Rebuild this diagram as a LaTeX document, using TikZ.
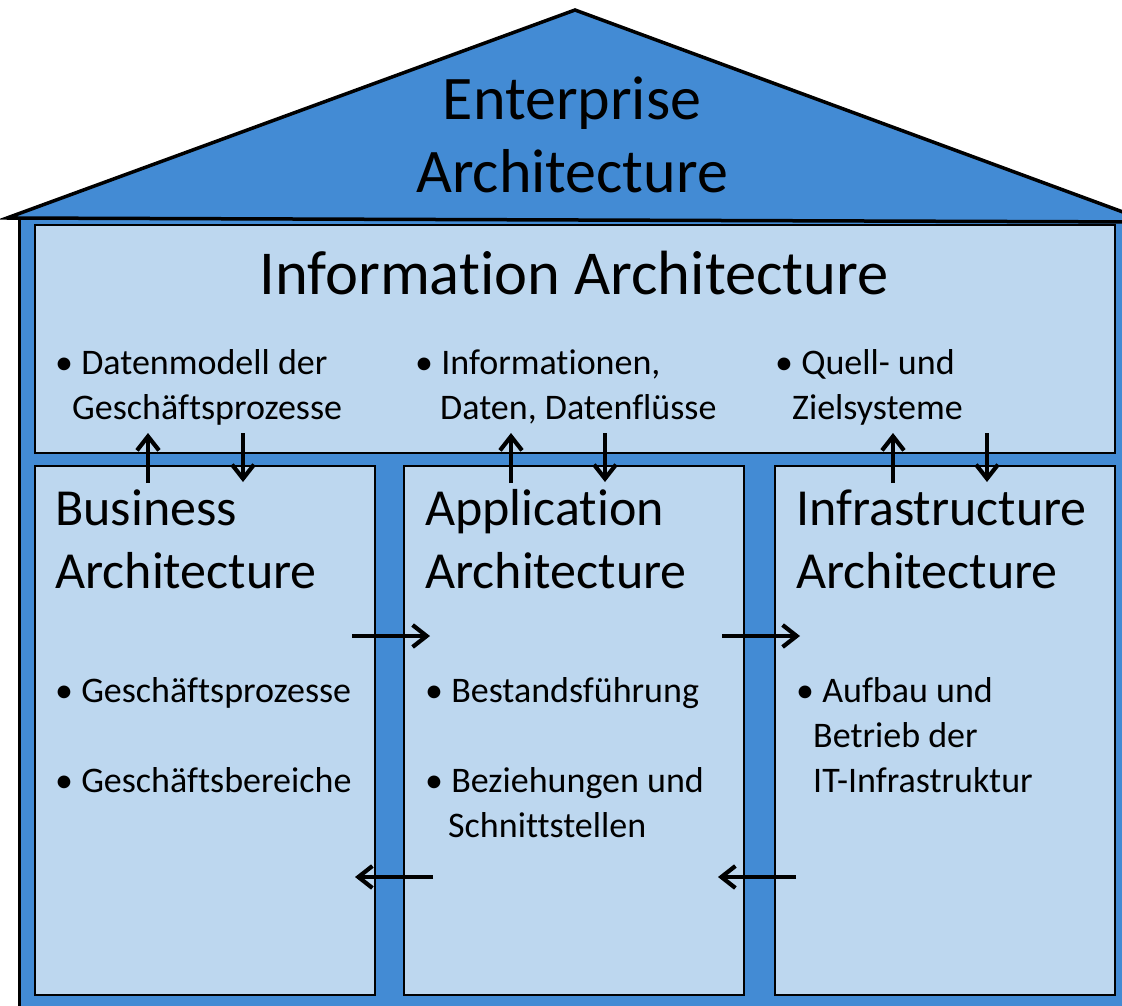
\documentclass[tikz,border=0pt]{standalone}
\usepackage{fontspec}
\setmainfont{Carlito}[Ligatures=NoCommon]
\usepackage{tikz}
\usetikzlibrary{arrows.meta}
\definecolor{roofblue}{RGB}{67,139,212}
\definecolor{paleblue}{RGB}{189,215,239}
\tikzset{
  pane/.style={draw=black,fill=paleblue,line width=2.8pt},
  txt/.style={anchor=base west,inner sep=0pt},
  arrowline/.style={line width=4.2pt,-{Straight Barb[length=14pt,width=22pt]}}
}
\newcommand{\bigfont}{\fontsize{62}{74}\selectfont}
\newcommand{\midfont}{\fontsize{62.5}{74}\selectfont}
\newcommand{\boxfont}{\fontsize{52}{62}\selectfont}
\newcommand{\itemfont}{\fontsize{36}{43}\selectfont}

\begin{document}
\begin{tikzpicture}[x=1pt,y=-1pt]
\useasboundingbox (0,0) rectangle (1122,1006);
\clip (0,0) rectangle (1122,1006);

% house
\filldraw[fill=roofblue,line width=3pt] (19,218) rectangle (1140,1020);
\filldraw[fill=roofblue,line width=3.5pt,line join=miter] (7,218) -- (575,10) -- (1150,222) -- cycle;
\draw(572,120) node[anchor=base,inner sep=0pt] (ent1) {\bigfont Enterprise};
\draw(572,192) node[anchor=base,inner sep=0pt] (ent2) {\bigfont Architecture};

% information layer
\draw[pane] (35,225) rectangle (1115,453);
\draw(574,294) node[anchor=base,inner sep=0pt] (info) {\midfont Information Architecture};
\draw(55,374) node[txt] (i1a) {\itemfont \textbullet\ Datenmodell der};
\draw(72,419) node[txt] (i1b) {\itemfont Geschäftsprozesse};
\draw(415,374) node[txt] (i2a) {\itemfont \textbullet\ Informationen,};
\draw(440,419) node[txt] (i2b) {\itemfont Daten, Datenflüsse};
\draw(775,374) node[txt] (i3a) {\itemfont \textbullet\ Quell- und};
\draw(792,419) node[txt] (i3b) {\itemfont Zielsysteme};

% the three pillars
\draw[pane] (35,466) rectangle (375,995);
\draw(55,525) node[txt] (bus1) {\boxfont Business};
\draw(55,588) node[txt] (bus2) {\boxfont Architecture};
\draw(55,702) node[txt] (b1) {\itemfont \textbullet\ Geschäftsprozesse};
\draw(55,792) node[txt] (b2) {\itemfont \textbullet\ Geschäftsbereiche};

\draw[pane] (404,466) rectangle (744,995);
\draw(425,525) node[txt] (app1) {\boxfont Application};
\draw(425,588) node[txt] (app2) {\boxfont Architecture};
\draw(425,702) node[txt] (a1) {\itemfont \textbullet\ Bestandsführung};
\draw(425,792) node[txt] (a2) {\itemfont \textbullet\ Beziehungen und};
\draw(448,837) node[txt] (a3) {\itemfont Schnittstellen};

\draw[pane] (775,466) rectangle (1115,995);
\draw(796,525) node[txt] (inf1) {\boxfont Infrastructure};
\draw(796,588) node[txt] (inf2) {\boxfont Architecture};
\draw(796,702) node[txt] (f1) {\itemfont \textbullet\ Aufbau und};
\draw(813,747) node[txt] (f2) {\itemfont Betrieb der};
\draw(813,792) node[txt] (f3) {\itemfont IT-Infrastruktur};

% arrows
\coordinate (bu0) at (148,483); \coordinate (bu1) at (148,433);
\coordinate (bd0) at (243,433); \coordinate (bd1) at (243,482);
\coordinate (au0) at (511,483); \coordinate (au1) at (511,433);
\coordinate (ad0) at (605,433); \coordinate (ad1) at (605,482);
\coordinate (fu0) at (893,483); \coordinate (fu1) at (893,433);
\coordinate (fd0) at (987,433); \coordinate (fd1) at (987,482);
\draw[arrowline] (bu0) -- (bu1);
\draw[arrowline] (bd0) -- (bd1);
\draw[arrowline] (au0) -- (au1);
\draw[arrowline] (ad0) -- (ad1);
\draw[arrowline] (fu0) -- (fu1);
\draw[arrowline] (fd0) -- (fd1);

\coordinate (ba0) at (352,636); \coordinate (ba1) at (430,636);
\coordinate (af0) at (722,636); \coordinate (af1) at (800,636);
\coordinate (ab0) at (433,877); \coordinate (ab1) at (355,877);
\coordinate (fa0) at (796,877); \coordinate (fa1) at (718,877);
\draw[arrowline] (ba0) -- (ba1);
\draw[arrowline] (af0) -- (af1);
\draw[arrowline] (ab0) -- (ab1);
\draw[arrowline] (fa0) -- (fa1);

\end{tikzpicture}
\end{document}
